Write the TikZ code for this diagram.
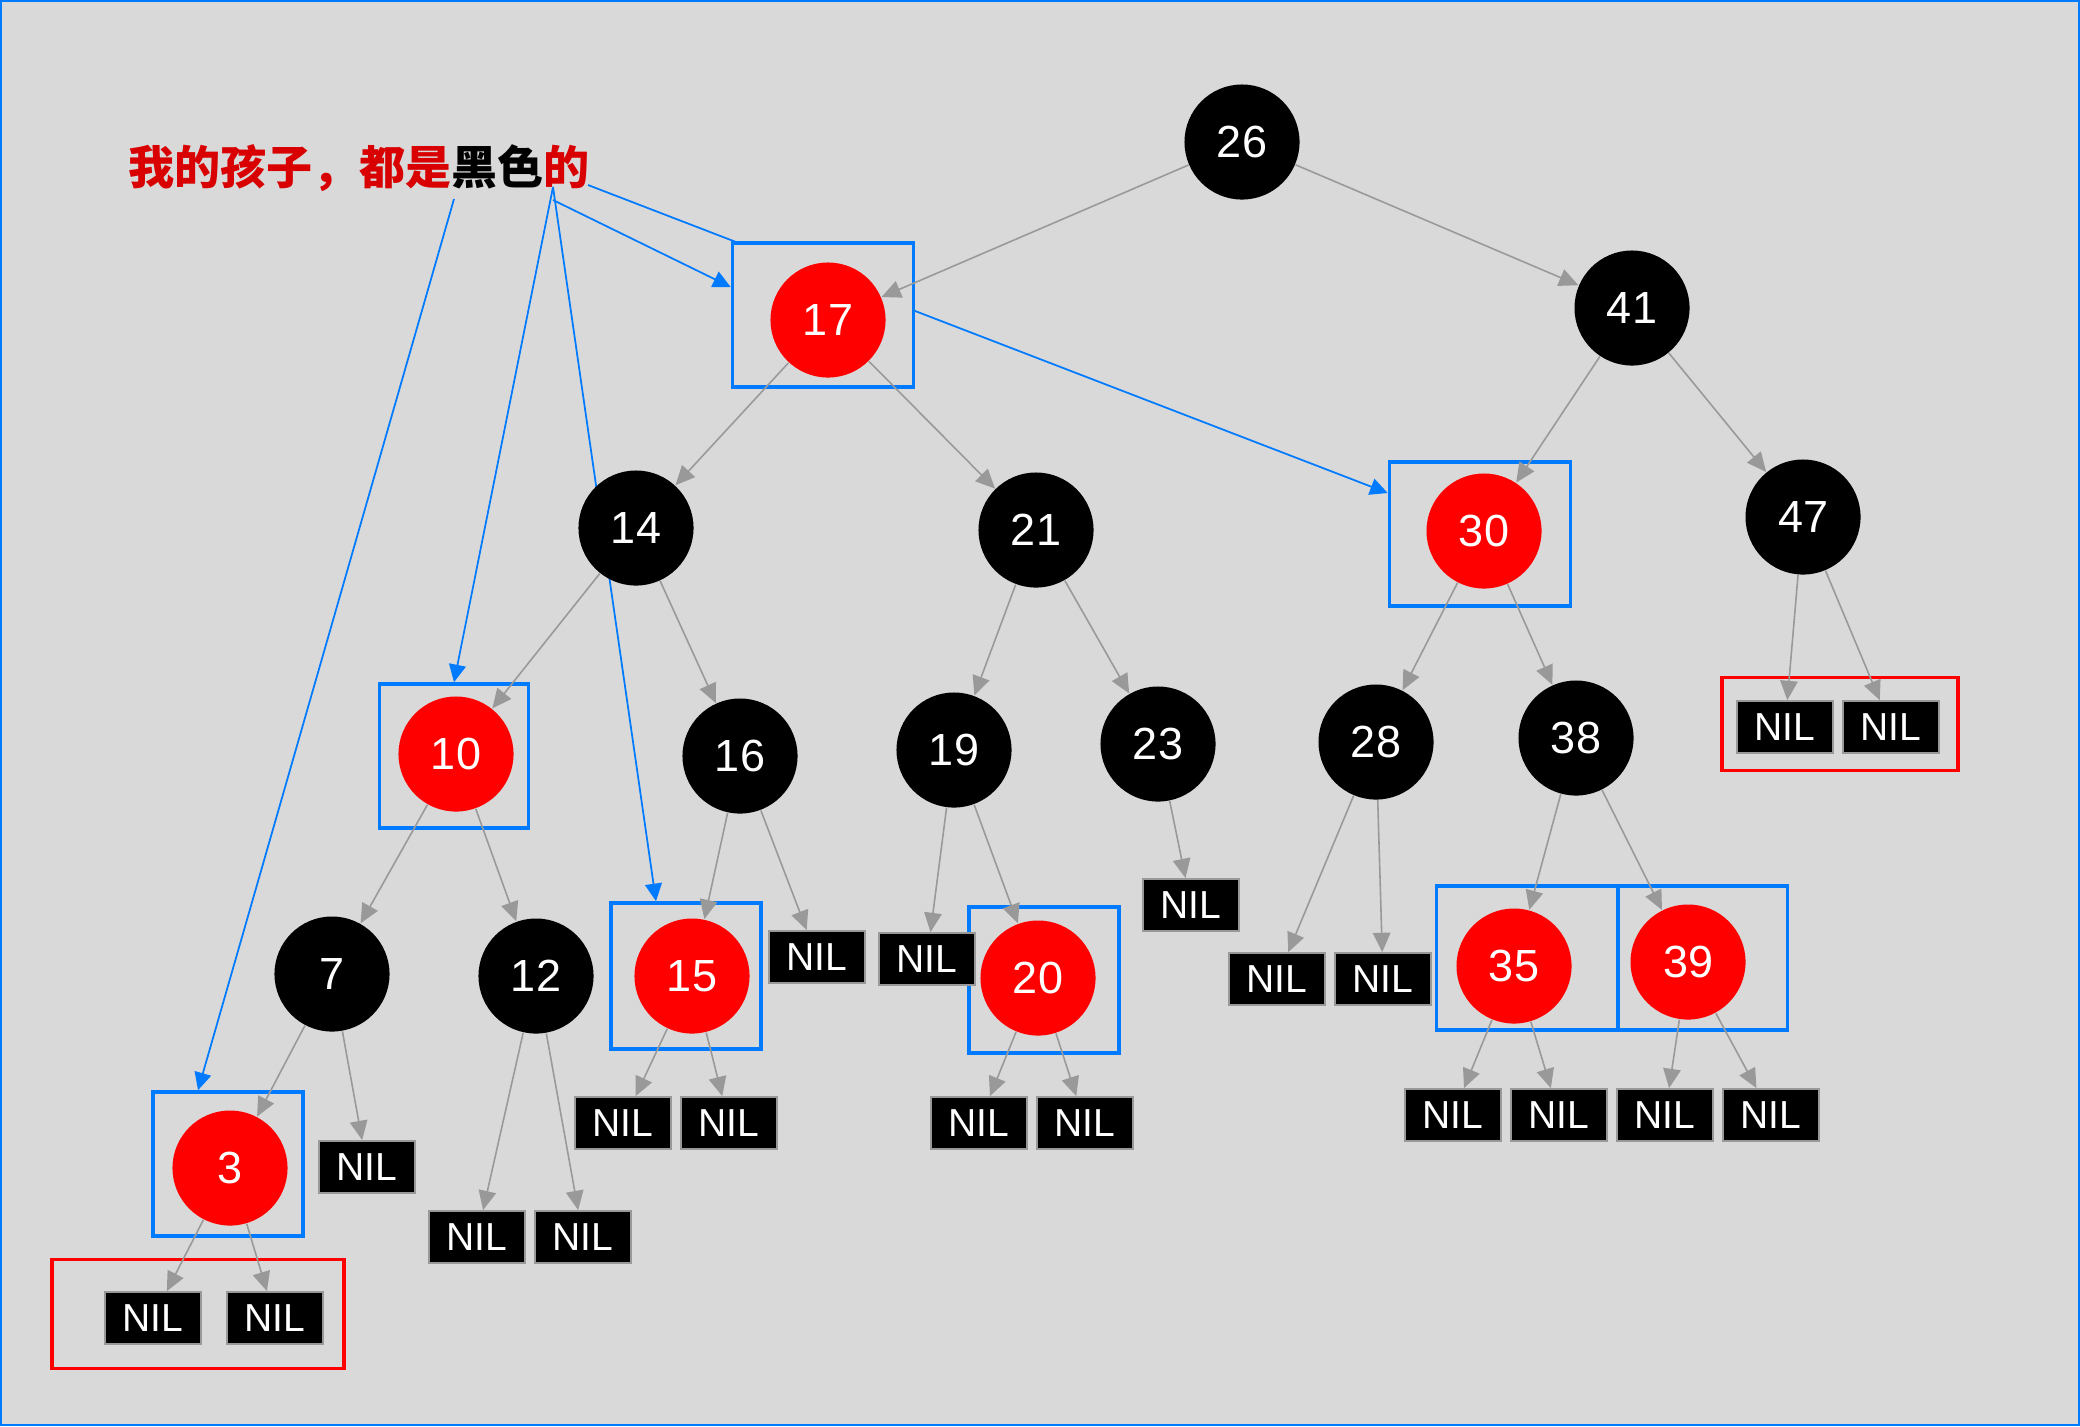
\documentclass[tikz,border=0pt]{standalone}
\usepackage{fontspec}
\setmainfont{Liberation Sans}
\newfontfamily\cjk{Noto Sans CJK SC}
\usetikzlibrary{arrows.meta,calc}

\definecolor{bg}{RGB}{217,217,217}
\definecolor{rbred}{RGB}{255,0,0}
\definecolor{hlblue}{RGB}{0,122,255}
\definecolor{notered}{RGB}{216,0,0}
\definecolor{edgegray}{RGB}{153,153,153}

\pgfdeclarelayer{back}
\pgfsetlayers{back,main}

\tikzset{
  blk/.style={shape=circle, fill=black, text=white, minimum size=1.15cm, inner sep=0pt,
    font=\fontsize{12.8}{14}\selectfont},
  redn/.style={blk, fill=rbred},
  nil/.style={shape=rectangle, fill=black, draw=edgegray, line width=0.5pt, text=white,
    minimum width=0.96cm, minimum height=0.52cm, inner sep=0pt, font=\fontsize{11.1}{12}\selectfont},
  hl/.style={shape=rectangle, draw=hlblue, line width=1pt, fill=bg, inner sep=0pt},
  grp/.style={shape=rectangle, draw=rbred, line width=1pt, inner sep=0pt},
  tedge/.style={color=edgegray, line width=0.45pt, -{Triangle[length=5.5pt,width=5pt]}},
  pointer/.style={color=hlblue, line width=0.5pt, -{Triangle[length=5pt,width=4.8pt]}},
}

\begin{document}
\begin{tikzpicture}[x=0.01cm, y=-0.01cm]
                \useasboundingbox (0,0) rectangle (2080,1426);
                \begin{pgfonlayer}{back}
                \fill[bg] (0,0) rectangle (2080,1426);
                \draw[hlblue, line width=0.6pt] (1,1) rectangle (2079,1425);
                \end{pgfonlayer}

                % highlighted red nodes
                \node[hl, minimum width=1.81cm, minimum height=1.44cm] (box17) at (823,315) {};
                \node[hl, minimum width=1.81cm, minimum height=1.44cm] (box30) at (1480,534) {};
                \node[hl, minimum width=1.49cm, minimum height=1.44cm] (box10) at (454,756) {};
                \node[hl, minimum width=1.50cm, minimum height=1.46cm] (box15) at (686,976) {};
                \node[hl, minimum width=1.50cm, minimum height=1.46cm] (box20) at (1044,980) {};
                \node[hl, minimum width=1.50cm, minimum height=1.44cm] (box3) at (228,1164) {};
                \node[hl, minimum width=1.81cm, minimum height=1.44cm] (box35) at (1527,958) {};
                \node[hl, minimum width=1.69cm, minimum height=1.44cm] (box39) at (1703,958) {};
                \node[grp, minimum width=2.92cm, minimum height=1.09cm] (grp3) at (198,1314) {};
                \node[grp, minimum width=2.36cm, minimum height=0.93cm] (grp47) at (1840,724) {};

                \node[font=\cjk\bfseries\fontsize{13.1}{15}\selectfont, text=notered, inner sep=0pt, anchor=west]
                    (note) at (128,168) {我的孩子，都是\textcolor{black}{黑色}的};
                \coordinate (fromhei) at (454,199);
                \coordinate (fromde) at (553,187);
                \coordinate (fromde2) at (553,200);
                \coordinate (fromend) at (588,185);

                \begin{pgfonlayer}{back}
                \draw[pointer] (fromhei) -- ($(box3.north)+(-30,0)$);
                \draw[pointer] (fromde) -- (box10.north);
                \draw[pointer] (fromde) -- ($(box15.north)+(-30,0)$);
                \draw[pointer] (fromde2) -- ($(box17.west)+(0,-28)$);
                \draw[pointer] (fromend) -- ($(box30.west)+(0,-41)$);
                \end{pgfonlayer}

                \node[blk] (26) at (1242,142) {26};
                \node[redn] (17) at (828,320) {17};
                \node[blk] (41) at (1632,308) {41};
                \node[blk] (14) at (636,528) {14};
                \node[blk] (21) at (1036,530) {21};
                \node[redn] (30) at (1484,531) {30};
                \node[blk] (47) at (1803,517) {47};
                \node[redn] (10) at (456,754) {10};
                \node[blk] (16) at (740,756) {16};
                \node[blk] (19) at (954,750) {19};
                \node[blk] (23) at (1158,744) {23};
                \node[blk] (28) at (1376,742) {28};
                \node[blk] (38) at (1576,738) {38};
                \node[blk] (7) at (332,974) {7};
                \node[blk] (12) at (536,976) {12};
                \node[redn] (15) at (692,976) {15};
                \node[redn] (20) at (1038,978) {20};
                \node[redn] (35) at (1514,966) {35};
                \node[redn] (39) at (1688,962) {39};
                \node[redn] (3) at (230,1168) {3};

                \node[nil] (n3l) at (153,1318) {NIL};
                \node[nil] (n3r) at (275,1318) {NIL};
                \node[nil] (n7) at (367,1167) {NIL};
                \node[nil] (n12l) at (477,1237) {NIL};
                \node[nil] (n12r) at (583,1237) {NIL};
                \node[nil] (n15l) at (623,1123) {NIL};
                \node[nil] (n15r) at (729,1123) {NIL};
                \node[nil] (n16) at (817,957) {NIL};
                \node[nil] (n19) at (927,959) {NIL};
                \node[nil] (n20l) at (979,1123) {NIL};
                \node[nil] (n20r) at (1085,1123) {NIL};
                \node[nil] (n23) at (1191,905) {NIL};
                \node[nil] (n28l) at (1277,979) {NIL};
                \node[nil] (n28r) at (1383,979) {NIL};
                \node[nil] (n35l) at (1453,1115) {NIL};
                \node[nil] (n35r) at (1559,1115) {NIL};
                \node[nil] (n39l) at (1665,1115) {NIL};
                \node[nil] (n39r) at (1771,1115) {NIL};
                \node[nil] (n47l) at (1785,727) {NIL};
                \node[nil] (n47r) at (1891,727) {NIL};

                \draw[tedge] (26) edge (17);
                \draw[tedge] (26) edge (41);
                \draw[tedge] (17) edge (14);
                \draw[tedge] (17) edge (21);
                \draw[tedge] (41) edge (30);
                \draw[tedge] (41) edge (47);

                \draw[tedge] (14) edge (10);
                \draw[tedge] (14) edge (16);
                \draw[tedge] (21) edge (19);
                \draw[tedge] (21) edge (23);
                \draw[tedge] (30) edge (28);
                \draw[tedge] (30) edge (38);
                \draw[tedge] (47) edge (n47l);
                \draw[tedge] (47) edge (n47r);

                \draw[tedge] (10) edge (7);
                \draw[tedge] (10) edge (12);
                \draw[tedge] (16) edge (15);
                \draw[tedge] (16) edge (n16);
                \draw[tedge] (19) edge (n19);
                \draw[tedge] (19) edge (20);
                \draw[tedge] (23) edge (n23);
                \draw[tedge] (28) edge (n28l);
                \draw[tedge] (28) edge (n28r);
                \draw[tedge] (38) edge (35);
                \draw[tedge] (38) edge (39);

                \draw[tedge] (7) edge (3);
                \draw[tedge] (7) edge (n7);
                \draw[tedge] (12) edge (n12l);
                \draw[tedge] (12) edge (n12r);
                \draw[tedge] (15) edge (n15l);
                \draw[tedge] (15) edge (n15r);
                \draw[tedge] (20) edge (n20l);
                \draw[tedge] (20) edge (n20r);
                \draw[tedge] (35) edge (n35l);
                \draw[tedge] (35) edge (n35r);
                \draw[tedge] (39) edge (n39l);
                \draw[tedge] (39) edge (n39r);
                \draw[tedge] (3) edge (n3l);
                \draw[tedge] (3) edge (n3r);

            \end{tikzpicture}
\end{document}
